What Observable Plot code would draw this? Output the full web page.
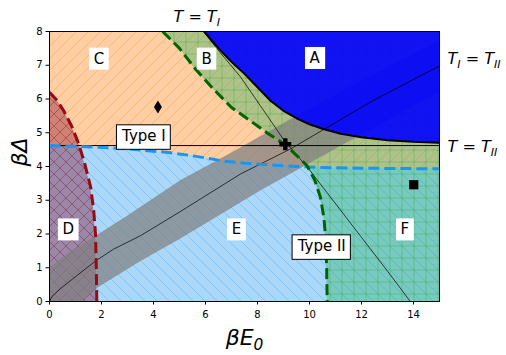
<!DOCTYPE html>
<html><head><meta charset="utf-8">
<script src="https://cdn.jsdelivr.net/npm/d3@7"></script>
<script src="https://cdn.jsdelivr.net/npm/@observablehq/plot@0.6"></script>
<style>body{margin:0;background:#fff}svg{display:block}</style>
</head><body>
<script>
// ---- data ----
const xDomain = [0, 15];
const yDomain = [0, 8];
const xTicks = [0, 2, 4, 6, 8, 10, 12, 14];
const yTicks = [0, 1, 2, 3, 4, 5, 6, 7, 8];

// blue dashed boundary (type I / below)
const blueDashX = [0, 1.2, 2.5, 3.5, 4.5, 5.4, 6.2, 6.7, 7.5, 8.5, 9.5, 10.5, 12, 13.5, 15];
const blueDashY = [4.62, 4.59, 4.55, 4.49, 4.42, 4.33, 4.23, 4.16, 4.1, 4.05, 4.0, 3.97, 3.95, 3.94, 3.93];
// green dashed boundary
const greenDashX = [4.35, 5.0, 5.6, 6.3, 7.0, 7.73, 8.4, 9.05, 9.5, 9.9, 10.2, 10.42, 10.55, 10.62, 10.66, 10.68];
const greenDashY = [8.0, 7.5, 6.9, 6.3, 5.75, 5.35, 4.98, 4.65, 4.33, 4.03, 3.6, 3.09, 2.5, 1.9, 1.0, 0];
// red dashed boundary
const redDashX = [0, 0.3, 0.54, 0.85, 1.12, 1.35, 1.58, 1.7, 1.77, 1.8, 1.82];
const redDashY = [6.2, 5.95, 5.66, 5.2, 4.68, 4.1, 3.4, 2.7, 2.0, 1.0, 0];
// region A boundary (solid black)
const aCurveX = [5.95, 6.5, 7.0, 7.5, 8.0, 8.5, 9.0, 9.5, 10.0, 10.5, 11.2, 12.0, 13.0, 14.0, 15.0];
const aCurveY = [8.0, 7.5, 7.1, 6.75, 6.35, 5.95, 5.65, 5.43, 5.25, 5.12, 4.97, 4.87, 4.78, 4.73, 4.7];
// thin T = T_I line
const tiLineX = [5.92, 6.4, 7.35, 8.2, 9.0, 10.0, 10.9, 12.0, 13.0, 13.88];
const tiLineY = [8.0, 7.53, 6.65, 5.7, 4.8, 3.9, 3.0, 1.9, 0.9, 0];
// thin T_I = T_II line
const centerX = [0, 0.1, 0.42, 0.94, 1.77, 2.46, 3.5, 5.0, 7.35, 9.27, 12.46, 15];
const centerY = [0, 0.15, 0.38, 0.7, 1.2, 1.55, 1.95, 2.65, 3.78, 4.52, 5.96, 6.98];
// gray band edges
const bandUpperX = [0, 0.5, 1.0, 1.77, 3.0, 5.04, 6.96, 9.38, 12, 15];
const bandUpperY = [1.0, 1.32, 1.58, 1.95, 2.55, 3.6, 4.4, 5.45, 6.55, 7.75];
const bandLowerX = [0, 1.27, 1.77, 3.5, 5.0, 8.12, 11.7, 15];
const bandLowerY = [-0.75, 0, 0.38, 1.2, 1.85, 3.3, 4.83, 6.2];
// T = T_II level
const tIIlevel = [4.62];

// markers
const diamondPt = {x: 4.17, y: 5.76};
const plusPt = {x: 9.07, y: 4.66};
const squarePt = {x: 14.01, y: 3.46};

// labels
const regionLabelText = ["C", "B", "A", "D", "E", "F"];
const regionLabelX = [1.9, 6.04, 10.2, 0.72, 7.19, 13.67];
const regionLabelY = [7.19, 7.19, 7.21, 2.13, 2.13, 2.13];
const typeLabelText = ["Type I", "Type II"];
const typeLabelX = [3.63, 10.47];
const typeLabelY = [4.89, 1.63];
const outsideText = ["T = T_{I}", "T_{I} = T_{II}", "T = T_{II}"];
const outsideX = [4.77, 15.31, 15.31];
const outsideY = [8.27, 7.04, 4.42];
const xLabel = "βE_{0}";
const yLabel = "βΔ";

// ---- build tables ----
const pts = (xs, ys) => xs.map((x, i) => ({x, y: ys[i]}));
const blueDash = pts(blueDashX, blueDashY);
const greenDash = pts(greenDashX, greenDashY);
const redDash = pts(redDashX, redDashY);
const aCurve = pts(aCurveX, aCurveY);
const tiLine = pts(tiLineX, tiLineY);
const center = pts(centerX, centerY);
const bandPoly = pts(bandUpperX, bandUpperY).concat(pts(bandLowerX, bandLowerY).reverse());
const regionLabels = regionLabelText.map((t, i) => ({t, x: regionLabelX[i], y: regionLabelY[i]}));
const typeLabels = typeLabelText.map((t, i) => ({t, x: typeLabelX[i], y: typeLabelY[i]}));
const outside = outsideText.map((t, i) => ({t, x: outsideX[i], y: outsideY[i]}));

const orangeC = "#ff7f0e", blueC = "#1a96f0", greenC = "#28b25f", redC = "#8a1030";

const thinDiamond = {draw(c) { c.moveTo(0, -6.5); c.lineTo(4, 0); c.lineTo(0, 6.5); c.lineTo(-4, 0); c.closePath(); }};
const fatPlus = {draw(c) {
  const a = 6, b = 2.2;
  c.moveTo(-b, -a); c.lineTo(b, -a); c.lineTo(b, -b); c.lineTo(a, -b); c.lineTo(a, b); c.lineTo(b, b);
  c.lineTo(b, a); c.lineTo(-b, a); c.lineTo(-b, b); c.lineTo(-a, b); c.lineTo(-a, -b); c.lineTo(-b, -b); c.closePath();
}};
const sq = {draw(c) { const s = 4.6; c.moveTo(-s, -s); c.lineTo(s, -s); c.lineTo(s, s); c.lineTo(-s, s); c.closePath(); }};

const svg = Plot.plot({
  width: 506, height: 355,
  marginLeft: 49, marginRight: 67, marginTop: 31, marginBottom: 54,
  style: {fontFamily: "DejaVu Sans", fontSize: "10px", background: "white", color: "black"},
  x: {domain: xDomain, ticks: xTicks, tickSize: 3.5, tickPadding: 6, label: null},
  y: {domain: yDomain, ticks: yTicks, tickSize: 3.5, tickPadding: 3.5, label: null},
  marks: [
    // region fills
    Plot.areaY(blueDash, {x: "x", y1: "y", y2: yDomain[1], fill: orangeC, fillOpacity: 0.38}),
    Plot.areaY(blueDash, {x: "x", y1: "y", y2: yDomain[1], fill: "url(#hOr)"}),
    Plot.areaY(blueDash, {x: "x", y1: yDomain[0], y2: "y", fill: blueC, fillOpacity: 0.37}),
    Plot.areaY(blueDash, {x: "x", y1: yDomain[0], y2: "y", fill: "url(#hBl)"}),
    Plot.areaX(greenDash, {y: "y", x1: "x", x2: xDomain[1], fill: greenC, fillOpacity: 0.38}),
    Plot.areaX(greenDash, {y: "y", x1: "x", x2: xDomain[1], fill: "url(#hGr)"}),
    Plot.areaX(redDash, {y: "y", x1: xDomain[0], x2: "x", fill: redC, fillOpacity: 0.4}),
    Plot.areaX(redDash, {y: "y", x1: xDomain[0], x2: "x", fill: "url(#hRd)"}),
    Plot.line(bandPoly, {x: "x", y: "y", fill: "#7f7f7f", fillOpacity: 0.72, stroke: "none", clip: true}),
    Plot.areaY(aCurve, {x: "x", y1: "y", y2: yDomain[1], fill: "#0000ff", fillOpacity: 0.9}),
    // lines
    Plot.ruleY(tIIlevel, {stroke: "black", strokeWidth: 1}),
    Plot.line(center, {x: "x", y: "y", stroke: "black", strokeWidth: 0.7, clip: true}),
    Plot.line(tiLine, {x: "x", y: "y", stroke: "black", strokeWidth: 0.7, clip: true}),
    Plot.line(aCurve, {x: "x", y: "y", stroke: "black", strokeWidth: 2, clip: true}),
    Plot.line(blueDash, {x: "x", y: "y", stroke: blueC, strokeWidth: 3, strokeDasharray: "11,5", strokeLinecap: "butt", clip: true}),
    Plot.line(greenDash, {x: "x", y: "y", stroke: "#006400", strokeWidth: 3, strokeDasharray: "11,5", strokeLinecap: "butt", clip: true}),
    Plot.line(redDash, {x: "x", y: "y", stroke: "#960a14", strokeWidth: 3, strokeDasharray: "11,5", strokeLinecap: "butt", clip: true}),
    // markers
    Plot.dot([diamondPt], {x: "x", y: "y", symbol: thinDiamond, fill: "black", stroke: "none"}),
    Plot.dot([plusPt], {x: "x", y: "y", symbol: fatPlus, fill: "black", stroke: "none"}),
    Plot.dot([squarePt], {x: "x", y: "y", symbol: sq, fill: "black", stroke: "none"}),
    // labels
    Plot.text(regionLabels, {x: "x", y: "y", text: "t", fontSize: 15, fill: "black", lineAnchor: "middle"}),
    Plot.text(typeLabels, {x: "x", y: "y", text: "t", fontSize: 15, fill: "black", lineAnchor: "middle"}),
    Plot.text(outside, {x: "x", y: "y", text: "t", fontSize: 16, fontStyle: "italic", textAnchor: "start", lineAnchor: "bottom", fill: "black"}),
    Plot.text([xLabel], {text: d => d, frameAnchor: "bottom", dy: 43, lineAnchor: "bottom", fontSize: 22, fontStyle: "italic", fill: "black"}),
    Plot.text([yLabel], {text: d => d, frameAnchor: "left", dx: -30, rotate: -90, lineAnchor: "middle", fontSize: 22, fontStyle: "italic", fill: "black"}),
    Plot.frame({stroke: "black", strokeWidth: 1})
  ]
});
document.body.appendChild(svg);

// ---- hatch patterns ----
const NS = "http://www.w3.org/2000/svg";
const defs = document.createElementNS(NS, "defs");
function pattern(id, d, color, op) {
  const p = document.createElementNS(NS, "pattern");
  p.setAttribute("id", id); p.setAttribute("patternUnits", "userSpaceOnUse");
  p.setAttribute("width", 12); p.setAttribute("height", 12);
  const path = document.createElementNS(NS, "path");
  path.setAttribute("d", d); path.setAttribute("stroke", color);
  path.setAttribute("stroke-opacity", op); path.setAttribute("stroke-width", 0.9); path.setAttribute("fill", "none");
  p.appendChild(path); defs.appendChild(p);
}
pattern("hOr", "M-3,3L3,-3M0,12L12,0M9,15L15,9", orangeC, 0.32);
pattern("hBl", "M0,0L12,12M-3,9L3,15M9,-3L15,3", blueC, 0.32);
pattern("hGr", "M0,6H12M6,0V12", "#2ca02c", 0.35);
pattern("hRd", "M0,0L12,12M-3,9L3,15M9,-3L15,3M-3,3L3,-3M0,12L12,0M9,15L15,9", "#7a1020", 0.4);
svg.insertBefore(defs, svg.firstChild);

// ---- label boxes ----
const letterSet = new Set(regionLabelText), typeSet = new Set(typeLabelText);
svg.querySelectorAll("text").forEach(t => {
  const s = t.textContent;
  if (!letterSet.has(s) && !typeSet.has(s)) return;
  const bb = t.getBBox();
  const isType = typeSet.has(s);
  const h = isType ? 24.5 : 22, padX = 4.6;
  const r = document.createElementNS(NS, "rect");
  r.setAttribute("x", bb.x - padX); r.setAttribute("width", bb.width + 2 * padX);
  r.setAttribute("y", bb.y + bb.height / 2 - h / 2 + (isType ? 0.8 : 0)); r.setAttribute("height", h);
  r.setAttribute("fill", "white");
  r.setAttribute("stroke", isType ? "black" : "none");
  r.setAttribute("stroke-width", 1);
  if (t.getAttribute("transform")) r.setAttribute("transform", t.getAttribute("transform"));
  t.parentNode.insertBefore(r, t);
});

// ---- subscripts ----
svg.querySelectorAll("text").forEach(t => {
  const s = t.textContent;
  if (!s.includes("_{")) return;
  const fs = parseFloat(getComputedStyle(t).fontSize);
  const shift = 0.24 * fs;
  t.textContent = "";
  const re = /_\{([^}]*)\}/g;
  let last = 0, m, down = false;
  const add = (txt, sub) => {
    const sp = document.createElementNS(NS, "tspan");
    sp.textContent = txt;
    if (sub) { sp.setAttribute("font-size", (0.7 * fs) + "px"); sp.setAttribute("dy", shift); down = true; }
    else if (down) { sp.setAttribute("dy", -shift); down = false; }
    t.appendChild(sp);
  };
  while ((m = re.exec(s))) {
    if (m.index > last) add(s.slice(last, m.index), false);
    add(m[1], true);
    last = re.lastIndex;
  }
  if (last < s.length) add(s.slice(last), false);
});
</script>
</body></html>
